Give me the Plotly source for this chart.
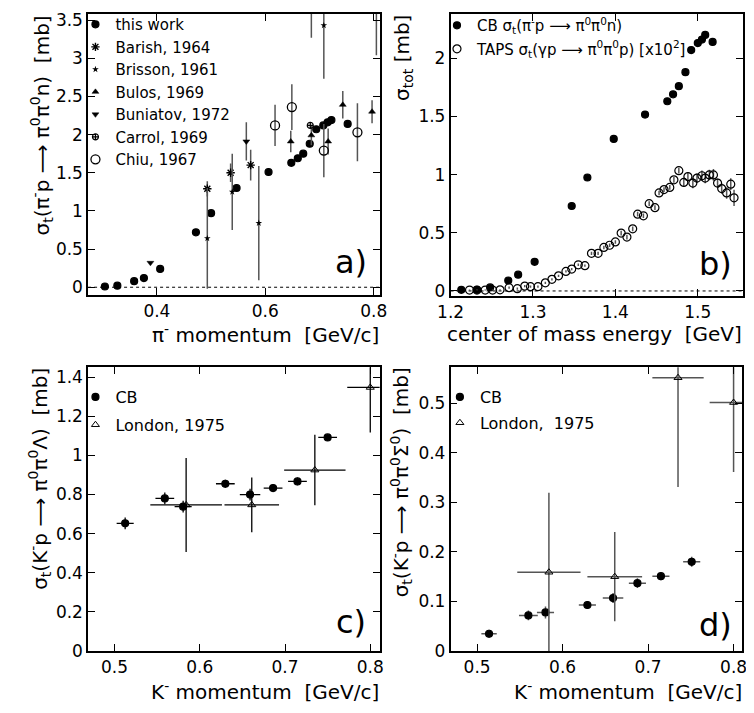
import plotly.graph_objects as go

# the page body has an 8px default margin, so the figure is 746x705 and placed at (8, 8)
OFF = 8
W, H = 754 - OFF, 713 - OFF
FONT = "DejaVu Sans"

# ---------------- panel a data ----------------
a_this_x = [0.304, 0.327, 0.358, 0.376, 0.406, 0.472, 0.500, 0.547, 0.606, 0.648, 0.660, 0.670, 0.682, 0.694, 0.707, 0.715, 0.722, 0.752]
a_this_y = [0.01, 0.02, 0.08, 0.12, 0.24, 0.72, 0.97, 1.30, 1.51, 1.63, 1.69, 1.75, 1.88, 2.07, 2.12, 2.16, 2.19, 2.14]
a_barish_x = [0.493, 0.536, 0.573]
a_barish_y = [1.29, 1.50, 1.60]
a_barish_e = [0.10, 0.12, 0.20]
a_brisson_x = [0.493, 0.539, 0.588, 0.685, 0.708, 0.805]
a_brisson_y = [0.64, 1.25, 0.84, 4.00, 3.43, 4.00]
a_brisson_e = [0.66, 0.50, 0.75, 0.73, 0.70, 0.96]
a_bulos_x = [0.647, 0.685, 0.716, 0.743, 0.797]
a_bulos_y = [1.91, 1.99, 1.91, 2.39, 2.30]
a_bulos_e = [0.14, 0.13, 0.17, 0.18, 0.15]
a_buniatov_x = [0.388, 0.565]
a_buniatov_y = [0.32, 1.91]
a_buniatov_e = [0.0, 0.25]
a_carrol_x = [0.683]
a_carrol_y = [2.12]
a_chiu_x = [0.618, 0.649, 0.708, 0.770]
a_chiu_y = [2.12, 2.36, 1.79, 2.03]
a_chiu_e = [0.27, 0.30, 0.35, 0.38]

# ---------------- panel b data ----------------
b_cb_x = [1.213, 1.232, 1.248, 1.270, 1.282, 1.302, 1.347, 1.366, 1.398, 1.436, 1.463, 1.470, 1.477, 1.485, 1.492, 1.500, 1.505, 1.509, 1.518]
b_cb_y = [0.01, 0.01, 0.03, 0.09, 0.14, 0.25, 0.73, 0.975, 1.306, 1.516, 1.63, 1.69, 1.76, 1.88, 2.07, 2.13, 2.16, 2.20, 2.14]
b_cb_e = [0.0, 0.0, 0.0, 0.0, 0.0, 0.0, 0.0, 0.0, 0.0, 0.03, 0.0, 0.0, 0.0, 0.0, 0.0, 0.0, 0.0, 0.0, 0.0]
b_taps_x = [1.223, 1.232, 1.242, 1.251, 1.260, 1.271, 1.281, 1.290, 1.297, 1.306, 1.315, 1.323, 1.331, 1.340, 1.347,
            1.355, 1.363, 1.371, 1.379, 1.386, 1.393, 1.400, 1.407, 1.414, 1.421, 1.427, 1.434, 1.441, 1.448, 1.453,
            1.459, 1.466, 1.471, 1.477, 1.483, 1.488, 1.494, 1.499, 1.505, 1.509, 1.514, 1.519, 1.524, 1.529, 1.535,
            1.540, 1.544]
b_taps_y = [0.008, 0.008, 0.008, 0.008, 0.010, 0.028, 0.020, 0.042, 0.037, 0.037, 0.070, 0.100, 0.130, 0.168, 0.188,
            0.225, 0.217, 0.323, 0.323, 0.374, 0.393, 0.421, 0.497, 0.463, 0.534, 0.660, 0.646, 0.750, 0.716, 0.842,
            0.871, 0.890, 0.955, 1.034, 0.933, 0.983, 0.927, 0.970, 0.990, 0.970, 0.997, 0.997, 0.927, 0.880, 0.842,
            0.918, 0.800]
b_taps_e = [0.005, 0.005, 0.005, 0.005, 0.005, 0.01, 0.01, 0.01, 0.01, 0.01, 0.01, 0.01, 0.01, 0.01, 0.01,
            0.01, 0.01, 0.015, 0.015, 0.015, 0.015, 0.015, 0.02, 0.02, 0.02, 0.02, 0.02, 0.02, 0.02, 0.02,
            0.02, 0.02, 0.025, 0.025, 0.04, 0.04, 0.045, 0.04, 0.045, 0.045, 0.045, 0.05, 0.04, 0.045, 0.05,
            0.05, 0.07]

# ---------------- panel c data ----------------
c_cb_x = [0.5125, 0.559, 0.5805, 0.630, 0.659, 0.686, 0.7146, 0.750]
c_cb_y = [0.653, 0.780, 0.738, 0.855, 0.800, 0.833, 0.867, 1.092]
c_cb_xe = [0.010, 0.011, 0.010, 0.011, 0.012, 0.011, 0.011, 0.011]
c_cb_ye = [0.03, 0.03, 0.03, 0.02, 0.03, 0.02, 0.02, 0.01]
c_lon_x = [0.584, 0.661, 0.735, 0.800]
c_lon_y = [0.747, 0.747, 0.925, 1.347]
c_lon_xe = [0.042, 0.032, 0.036, 0.027]
c_lon_ye = [0.24, 0.14, 0.18, 0.23]

# ---------------- panel d data ----------------
d_cb_x = [0.514, 0.560, 0.580, 0.629, 0.659, 0.6875, 0.715, 0.751]
d_cb_y = [0.035, 0.072, 0.078, 0.093, 0.107, 0.137, 0.151, 0.180]
d_cb_xe = [0.009, 0.011, 0.010, 0.010, 0.012, 0.010, 0.010, 0.010]
d_cb_ye = [0.008, 0.010, 0.012, 0.008, 0.010, 0.010, 0.008, 0.010]
d_lon_x = [0.584, 0.661, 0.735, 0.800]
d_lon_y = [0.159, 0.150, 0.551, 0.501]
d_lon_xe = [0.037, 0.032, 0.030, 0.028]
d_lon_ye = [0.16, 0.09, 0.22, 0.14]

GRAY = "#555555"


def ey(arr, color=GRAY, th=1.5):
    return dict(type="data", array=arr, color=color, thickness=th, width=0, visible=True)


fig = go.Figure()


def add(x, y, name, symbol, size, xa, ya, legend, err_y=None, err_x=None, lw=1.2, group=None):
    fig.add_trace(go.Scatter(
        x=x, y=y, mode="markers", name=name,
        marker=dict(symbol=symbol, size=size, color="black", line=dict(color="black", width=lw)),
        error_y=err_y, error_x=err_x, xaxis=xa, yaxis=ya, legend=legend,
        legendgroup=group))


# panel a
add(a_this_x, a_this_y, "this work", "circle", 7, "x", "y", "legend")
add(a_barish_x, a_barish_y, "Barish, 1964", "asterisk-open", 7, "x", "y", "legend", ey(a_barish_e), lw=1.4)
add(a_brisson_x, a_brisson_y, "Brisson, 1961", "star", 5, "x", "y", "legend", ey(a_brisson_e), lw=0)
add(a_bulos_x, a_bulos_y, "Bulos, 1969", "triangle-up", 6, "x", "y", "legend", ey(a_bulos_e), lw=0.5)
add(a_buniatov_x, a_buniatov_y, "Buniatov, 1972", "triangle-down", 6, "x", "y", "legend", ey(a_buniatov_e), lw=0.5)
add(a_carrol_x, a_carrol_y, "Carrol, 1969", "circle-cross-open", 6, "x", "y", "legend", lw=1.2)
add(a_chiu_x, a_chiu_y, "Chiu, 1967", "circle-open", 9, "x", "y", "legend", ey(a_chiu_e), lw=1.3)

# panel b
add(b_cb_x, b_cb_y, "CB σ<sub>t</sub>(π<sup>-</sup>p ⟶ π<sup>0</sup>π<sup>0</sup>n)", "circle", 7, "x2", "y2", "legend2",
    ey(b_cb_e), group="b1")
add(b_taps_x, b_taps_y, "TAPS σ<sub>t</sub>(γp ⟶ π<sup>0</sup>π<sup>0</sup>p) [x10<sup>2</sup>]", "circle-open", 8,
    "x2", "y2", "legend2", ey(b_taps_e), lw=1.2, group="b2")

# panel c
add(c_cb_x, c_cb_y, "CB", "circle", 7, "x3", "y3", "legend3", ey(c_cb_ye, "black", 1.3), ey(c_cb_xe, "black", 1.3),
    group="c1")
add(c_lon_x, c_lon_y, "London, 1975", "triangle-up-open", 7, "x3", "y3", "legend3", ey(c_lon_ye, "black", 1.3),
    ey(c_lon_xe, "black", 1.3), lw=1.0, group="c2")

# panel d
add(d_cb_x, d_cb_y, "CB", "circle", 7, "x4", "y4", "legend4", ey(d_cb_ye, GRAY), ey(d_cb_xe, GRAY), group="d1")
add(d_lon_x, d_lon_y, "London,  1975", "triangle-up-open", 7, "x4", "y4", "legend4", ey(d_lon_ye, GRAY),
    ey(d_lon_xe, GRAY), lw=1.0, group="d2")


def PX(p):  # page pixel -> paper x
    return (p - OFF) / W


def PY(p):  # page pixel -> paper y
    return 1 - (p - OFF) / H


def clamp(v):
    return min(1.0, max(0.0, v))


def dx(p0, p1):
    return [clamp(PX(p0)), clamp(PX(p1))]


def dy(top, bottom):
    return [clamp(PY(bottom)), clamp(PY(top))]


axis_common = dict(showline=True, linecolor="black", linewidth=1.5, mirror="ticks", ticks="inside",
                   ticklen=7, tickwidth=1.2, tickcolor="black", showgrid=False, zeroline=False,
                   tickfont=dict(size=17, family=FONT, color="black"))

leg_common = dict(xanchor="left", yanchor="top", bgcolor="rgba(0,0,0,0)", itemwidth=30)

fig.update_layout(
    width=W, height=H, margin=dict(l=0, r=0, t=0, b=0),
    paper_bgcolor="white", plot_bgcolor="white",
    font=dict(family=FONT, color="black"),
    xaxis=dict(axis_common, domain=dx(76, 376), range=[0.273, 0.811], dtick=0.2, tick0=0, anchor="y"),
    yaxis=dict(axis_common, domain=dy(9, 296), range=[-0.1, 3.58], dtick=0.5, tick0=0, anchor="x"),
    xaxis2=dict(axis_common, domain=dx(449, 750), range=[1.2, 1.555], dtick=0.1, tick0=0, anchor="y2"),
    yaxis2=dict(axis_common, domain=dy(9, 297), range=[-0.042, 2.38], dtick=0.5, tick0=0, anchor="x2"),
    xaxis3=dict(axis_common, domain=dx(76, 376), range=[0.469, 0.811], dtick=0.1, tick0=0, anchor="y3"),
    yaxis3=dict(axis_common, domain=dy(370, 660), range=[0, 1.45], dtick=0.2, tick0=0, anchor="x3"),
    xaxis4=dict(axis_common, domain=dx(449, 749), range=[0.469, 0.810], dtick=0.1, tick0=0, anchor="y4"),
    yaxis4=dict(axis_common, domain=dy(370, 660), range=[0, 0.572], dtick=0.1, tick0=0, anchor="x4"),
    legend=dict(leg_common, x=PX(63), y=PY(3), font=dict(size=15, family=FONT), tracegroupgap=0),
    legend2=dict(leg_common, x=PX(435), y=PY(4), font=dict(size=15, family=FONT), tracegroupgap=1),
    legend3=dict(leg_common, x=PX(63), y=PY(383), font=dict(size=16, family=FONT), tracegroupgap=4),
    legend4=dict(leg_common, x=PX(438), y=PY(383), font=dict(size=16, family=FONT), tracegroupgap=2),
)

# dotted zero lines
for xr, yr in [("x domain", "y"), ("x2 domain", "y2")]:
    fig.add_shape(type="line", xref=xr, yref=yr, x0=0, x1=1, y0=0, y1=0,
                  line=dict(color="black", width=1, dash="dot"))

ann = []


def txt(text, x, y, size, xanchor="center", yanchor="middle", angle=0):
    ann.append(dict(text=text, x=PX(x), y=PY(y), xref="paper", yref="paper", showarrow=False,
                    xanchor=xanchor, yanchor=yanchor, textangle=angle,
                    font=dict(size=size, family=FONT, color="black")))


# panel labels
txt("a)", 347, 262, 32)
txt("b)", 722, 264, 32)
txt("c)", 347, 630, 32)
txt("d)", 722, 633, 32)

# x axis titles
txt("π<sup>-</sup> momentum  [GeV/c]", 377, 336, 20, xanchor="right")
txt("center of mass energy  [GeV]", 751, 336, 20, xanchor="right")
txt("K<sup>-</sup> momentum  [GeV/c]", 377, 701, 20, xanchor="right")
txt("K<sup>-</sup> momentum  [GeV/c]", 751, 701, 20, xanchor="right")

# y axis titles
txt("σ<sub>t</sub>(π<sup>-</sup>p ⟶ π<sup>0</sup>π<sup>0</sup>n)  [mb]", 28, 8, 20, yanchor="top", angle=-90)
txt("σ<sub>tot</sub> [mb]", 400, 8, 20, yanchor="top", angle=-90)
txt("σ<sub>t</sub>(K<sup>-</sup>p ⟶ π<sup>0</sup>π<sup>0</sup>Λ)  [mb]", 26, 368, 20, yanchor="top", angle=-90)
txt("σ<sub>t</sub>(K<sup>-</sup>p ⟶ π<sup>0</sup>π<sup>0</sup>Σ<sup>0</sup>)  [mb]", 398, 368, 20, yanchor="top", angle=-90)

fig.update_layout(annotations=ann)

fig.write_html("out.html")
